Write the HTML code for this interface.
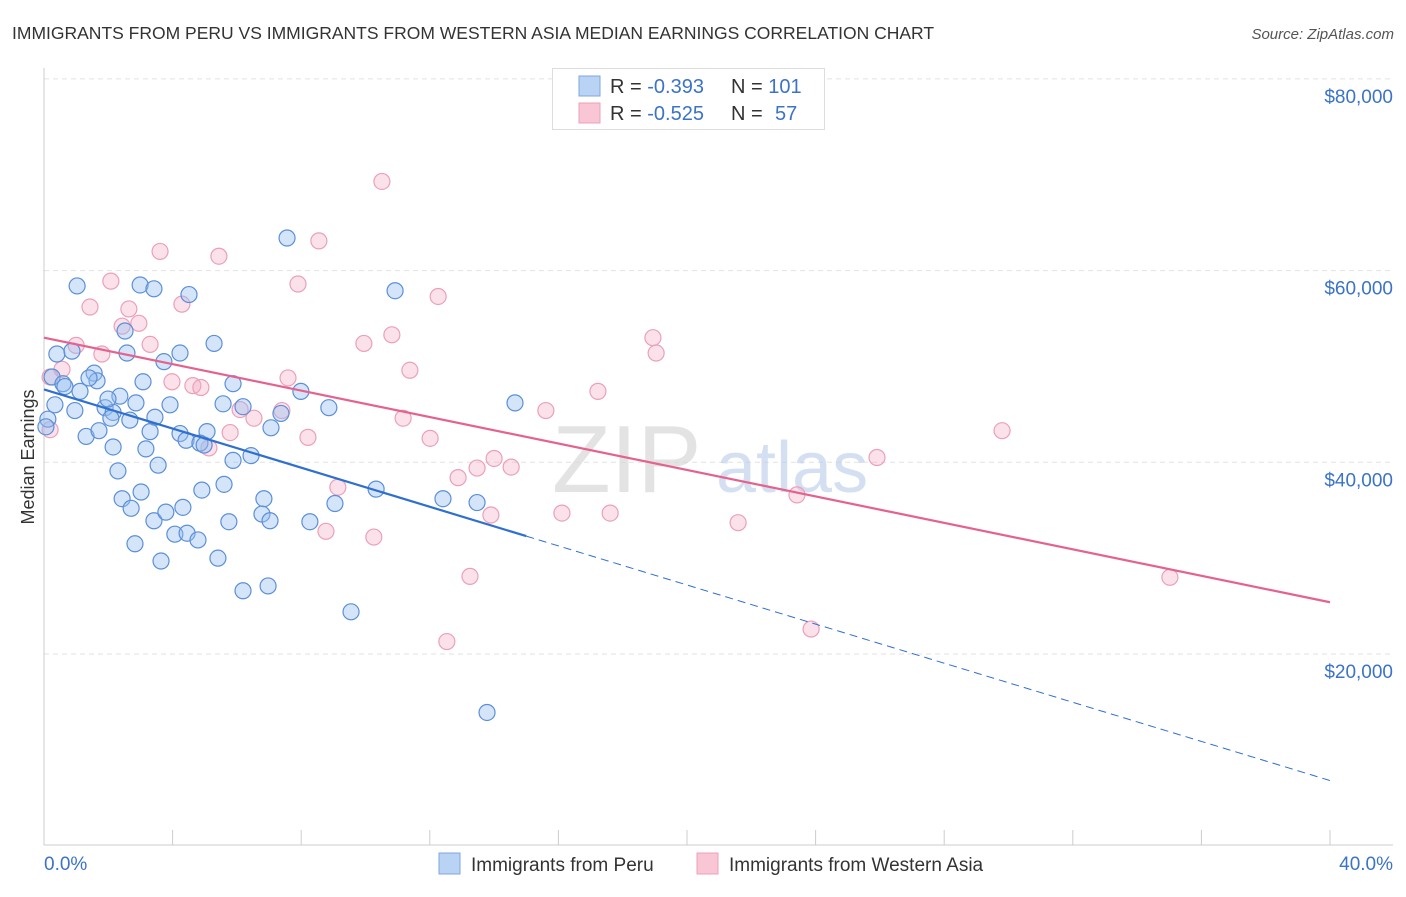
<!DOCTYPE html>
<html><head><meta charset="utf-8"><style>
body{margin:0;background:#fff;font-family:"Liberation Sans",sans-serif;}
svg text{font-family:"Liberation Sans",sans-serif;}
</style></head><body>
<svg id="chart" width="1406" height="892" viewBox="0 0 1406 892" xmlns="http://www.w3.org/2000/svg">
<text x="12" y="39" font-size="17.5" fill="#333">IMMIGRANTS FROM PERU VS IMMIGRANTS FROM WESTERN ASIA MEDIAN EARNINGS CORRELATION CHART</text>
<text x="1394" y="39" font-size="15" fill="#555" font-style="italic" text-anchor="end">Source: ZipAtlas.com</text>
<text transform="translate(34,457) rotate(-90)" font-size="18" fill="#333" text-anchor="middle">Median Earnings</text>
<g id="grid"></g>
<g id="ticks"></g>
<text x="552" y="492" font-size="96" font-family="Liberation Serif" fill="#d8d8d8" opacity="0.7">ZIP</text>
<text x="716" y="492" font-size="72" fill="#b8cdea" opacity="0.6">atlas</text>
<g id="pinkPts"></g>
<g id="bluePts"></g>
<g id="trends"></g>
<text x="44" y="870" font-size="19" fill="#3b73c9">0.0%</text>
<text x="1393" y="870" font-size="19" fill="#3b73c9" text-anchor="end">40.0%</text>
<g>
<rect x="552.5" y="68.5" width="272" height="61" fill="#fff" stroke="#ddd"/>
<rect x="579" y="76" width="21" height="20" fill="#b9d3f5" stroke="#7fa7e0"/>
<rect x="579" y="103" width="21" height="20" fill="#f8c6d5" stroke="#eda0b8"/>
<text x="610" y="93" font-size="20" fill="#333">R = <tspan fill="#3b73c9">-0.393</tspan><tspan x="731">N = </tspan><tspan fill="#3b73c9">101</tspan></text>
<text x="610" y="120" font-size="20" fill="#333">R = <tspan fill="#3b73c9">-0.525</tspan><tspan x="731">N = </tspan><tspan x="775" fill="#3b73c9">57</tspan></text>
</g>
<g>
<rect x="439" y="853" width="21" height="21" fill="#b9d3f5" stroke="#7fa7e0"/>
<text x="471" y="871" font-size="19" fill="#333">Immigrants from Peru</text>
<rect x="697" y="853" width="21" height="21" fill="#f8c6d5" stroke="#eda0b8"/>
<text x="729" y="871" font-size="19" fill="#333">Immigrants from Western Asia</text>
</g>
</svg>
<script>
const yTicks=[20000,40000,60000,80000];
const yTickLabels=["$20,000","$40,000","$60,000","$80,000"];
const peruX=[1.03,2.99,3.42,4.51,10.92,7.56,2.52,5.29,4.23,0.40,0.87,2.58,3.73,0.25,0.59,1.56,1.65,3.08,5.88,7.99,2.36,2.86,5.57,0.34,0.96,1.90,2.15,2.08,2.67,3.45,3.92,6.19,7.37,8.86,14.65,1.31,1.71,3.30,4.23,4.42,5.07,7.06,4.85,4.98,2.15,3.17,3.55,5.88,6.44,2.30,2.43,3.02,2.71,4.32,4.91,5.60,6.84,9.05,10.33,12.41,13.47,3.42,3.79,4.07,4.45,4.79,5.75,6.78,7.03,8.27,2.83,3.64,5.41,6.19,6.97,9.55,13.78,0.12,0.65,1.40,0.06,1.12,1.99];
const peruY=[58.4,58.5,58.1,57.5,57.9,63.4,53.7,52.4,51.4,51.3,51.6,51.4,50.5,48.9,48.2,49.3,48.5,48.4,48.2,47.4,46.9,46.2,46.1,46.0,45.4,45.7,45.2,44.6,44.4,44.7,46.0,45.8,45.1,45.7,46.2,42.7,43.3,43.2,43.0,42.3,43.2,43.6,42.0,41.8,41.6,41.4,39.7,40.2,40.7,39.1,36.2,36.9,35.2,35.3,37.1,37.7,36.2,35.7,37.2,36.2,35.8,33.9,34.8,32.5,32.6,31.9,33.8,34.6,33.9,33.8,31.5,29.7,30.0,26.6,27.1,24.4,13.9,44.5,47.9,48.8,43.7,47.4,46.6];
const asiaX=[10.51,3.61,5.44,8.55,2.08,7.90,1.43,4.29,12.26,2.64,2.95,2.43,1.00,3.30,9.95,10.82,18.94,19.04,1.80,0.56,3.98,4.63,4.88,7.59,11.38,17.23,6.10,6.53,7.40,11.17,15.61,5.79,8.21,12.01,29.80,25.91,5.13,12.88,13.47,14.00,14.53,9.14,23.42,13.90,16.11,17.61,21.59,8.77,10.26,13.25,35.02,12.53,23.86,0.19,0.19];
const asiaY=[69.3,62.0,61.5,63.1,58.9,58.6,56.2,56.5,57.3,56.0,54.5,54.2,52.2,52.3,52.4,53.3,53.0,51.4,51.3,49.7,48.4,48.0,47.8,48.8,49.6,47.4,45.5,44.6,45.4,44.6,45.4,43.1,42.6,42.5,43.3,40.5,41.5,38.4,39.4,40.4,39.5,37.4,36.6,34.5,34.7,34.7,33.7,32.8,32.2,28.1,28.0,21.3,22.6,48.9,43.4];
const peruTrend=[47.6,-1.02];
const asiaTrend=[53.0,-0.69];
const NS="http://www.w3.org/2000/svg";
const X0=44,X1=1330,Y0=845.7,PXK=191.7/20;
const sx=v=>X0+(v/40)*(X1-X0);
const sy=k=>Y0-k*PXK;
function mk(t,a,p){const e=document.createElementNS(NS,t);for(const k in a)e.setAttribute(k,a[k]);p.appendChild(e);return e;}
const grid=document.getElementById('grid');
yTicks.forEach((v,i)=>{
 const y=sy(v/1000);
 const l=mk('line',{x1:44,x2:1393,y1:y,y2:y,stroke:'#e2e2e2','stroke-dasharray':'5,4'},grid);
 
 
 const t=mk('text',{x:1393,y:y+24,'font-size':19,fill:'#3b73c9','text-anchor':'end'},grid);
 t.textContent=yTickLabels[i];
 
 
});
const tk=document.getElementById('ticks');
mk('line',{x1:44,x2:1393,y1:845,y2:845,stroke:'#ccc'},tk);
mk('line',{x1:44,x2:44,y1:68,y2:845,stroke:'#ccc'},tk);
for(let i=0;i<=10;i++){const x=sx(i*4);const l=mk('line',{x1:x,x2:x,y1:830,y2:845,stroke:'#ccc'},tk);
 
 }
function pts(xs,ys,g,fill,stroke,name){xs.forEach((x,i)=>{
 const c=mk('circle',{cx:sx(x),cy:sy(ys[i]),r:8,fill:fill,stroke:stroke,'stroke-width':1.2},g);
 
 });}
pts(asiaX,asiaY,document.getElementById('pinkPts'),'rgba(244,170,195,0.35)','#eba0b9','western-asia-point');
pts(peruX,peruY,document.getElementById('bluePts'),'rgba(150,190,240,0.4)','#5b8fd8','peru-point');
const tr=document.getElementById('trends');
const bl=mk('line',{x1:sx(0),y1:sy(peruTrend[0]),x2:sx(15),y2:sy(peruTrend[0]+15*peruTrend[1]),stroke:'#2f6fd0','stroke-width':2.2},tr);


const bd=mk('line',{x1:sx(15),y1:sy(peruTrend[0]+15*peruTrend[1]),x2:sx(40),y2:sy(peruTrend[0]+40*peruTrend[1]),stroke:'#2f6fd0','stroke-width':1,'stroke-dasharray':'8,5'},tr);


const pl=mk('line',{x1:sx(0),y1:sy(asiaTrend[0]),x2:sx(40),y2:sy(asiaTrend[0]+40*asiaTrend[1]),stroke:'#e5628f','stroke-width':2.2},tr);


</script>
</body></html>
